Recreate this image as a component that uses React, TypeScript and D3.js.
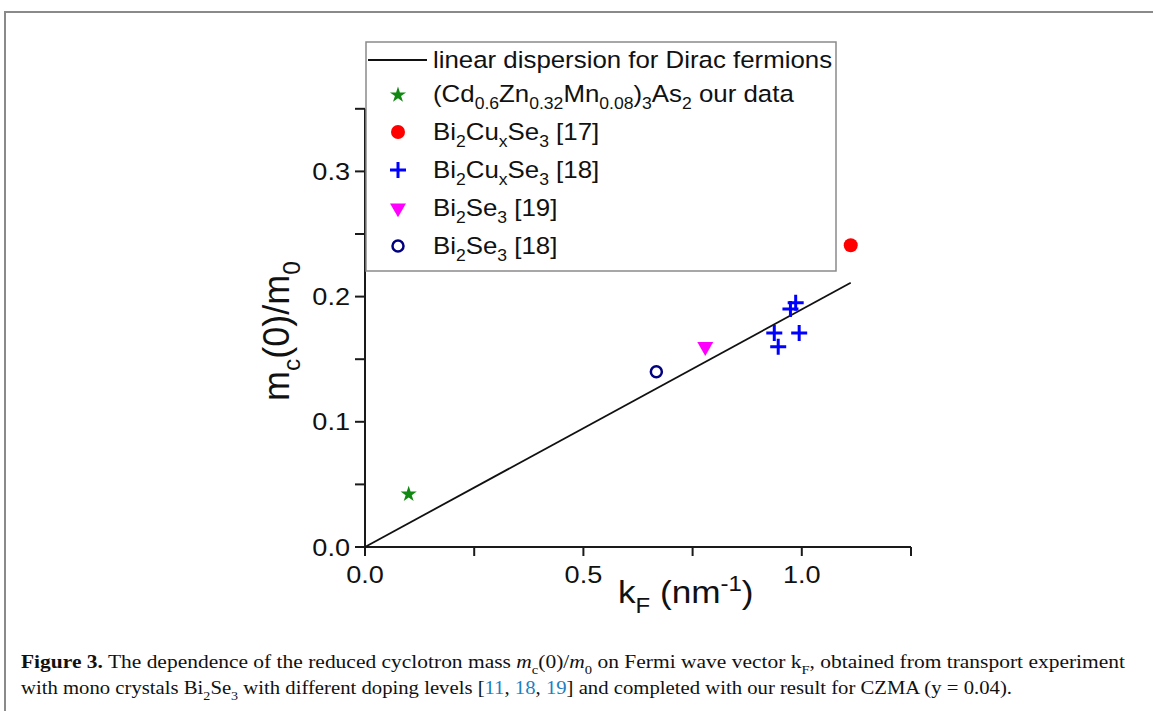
import React from 'react'
import * as d3 from 'd3'

// data (k_F in nm^-1, m_c(0)/m_0)
const diracK = [0, 1.112]
const diracM = [0, 0.211]
const czmaK = [0.1]
const czmaM = [0.043]
const cu17K = [1.112]
const cu17M = [0.241]
const cu18K = [0.937, 0.946, 0.974, 0.986, 0.994]
const cu18M = [0.171, 0.16, 0.19, 0.195, 0.171]
const se19K = [0.779]
const se19M = [0.16]
const se18K = [0.667]
const se18M = [0.14]

const xTicks = [0, 0.25, 0.5, 0.75, 1.0, 1.25]
const xLabels = [0, 0.5, 1.0]
const yTicks = [0, 0.05, 0.1, 0.15, 0.2, 0.25, 0.3, 0.35]
const yLabels = [0, 0.1, 0.2, 0.3]

const W = 1153
const H = 711
const FONT = 'Arial, "Liberation Sans", sans-serif'
const SERIF = '"Liberation Serif", "Times New Roman", serif'

const x = d3.scaleLinear().domain([0, 1.25]).range([365, 911])
const y = d3.scaleLinear().domain([0, 0.35]).range([547, 108.8])
const fmt = d3.format('.1f')

type Seg = { t: string; k?: 'sub' | 'sup'; bold?: boolean; italic?: boolean; fill?: string }

// text runs with sub / superscripts, dy keeps track of the baseline
const runs = (segs: Seg[], fs: number) => {
  let off = 0
  return segs.map((s, i) => {
    const target = s.k === 'sub' ? fs * 0.3 : s.k === 'sup' ? -fs * 0.38 : 0
    const dy = target - off
    off = target
    return (
      <tspan
        key={i}
        dy={dy}
        fontSize={s.k ? fs * 0.68 : fs}
        fontWeight={s.bold ? 'bold' : undefined}
        fontStyle={s.italic ? 'italic' : undefined}
        fill={s.fill}
      >
        {s.t}
      </tspan>
    )
  })
}

const star = d3.symbol().type(d3.symbolStar).size(80)()
const tri = d3.symbol().type(d3.symbolTriangle).size(110)()

const Plus = ({ cx, cy }: { cx: number; cy: number }) => (
  <path d={`M${cx - 8},${cy}H${cx + 8}M${cx},${cy - 8}V${cy + 8}`} stroke="#0000ff" strokeWidth={3} fill="none" />
)

const legendRows: { label: Seg[]; mark: string }[] = [
  { label: [{ t: 'linear dispersion for Dirac fermions' }], mark: 'line' },
  {
    label: [
      { t: '(Cd' }, { t: '0.6', k: 'sub' }, { t: 'Zn' }, { t: '0.32', k: 'sub' }, { t: 'Mn' },
      { t: '0.08', k: 'sub' }, { t: ')' }, { t: '3', k: 'sub' }, { t: 'As' }, { t: '2', k: 'sub' }, { t: ' our data' },
    ],
    mark: 'star',
  },
  { label: [{ t: 'Bi' }, { t: '2', k: 'sub' }, { t: 'Cu' }, { t: 'x', k: 'sub' }, { t: 'Se' }, { t: '3', k: 'sub' }, { t: ' [17]' }], mark: 'dot' },
  { label: [{ t: 'Bi' }, { t: '2', k: 'sub' }, { t: 'Cu' }, { t: 'x', k: 'sub' }, { t: 'Se' }, { t: '3', k: 'sub' }, { t: ' [18]' }], mark: 'plus' },
  { label: [{ t: 'Bi' }, { t: '2', k: 'sub' }, { t: 'Se' }, { t: '3', k: 'sub' }, { t: ' [19]' }], mark: 'tri' },
  { label: [{ t: 'Bi' }, { t: '2', k: 'sub' }, { t: 'Se' }, { t: '3', k: 'sub' }, { t: ' [18]' }], mark: 'ring' },
]

const Marker = ({ kind, cx, cy }: { kind: string; cx: number; cy: number }) => {
  if (kind === 'line') return <line x1={cx - 30} x2={cx + 29} y1={cy} y2={cy} stroke="#111" strokeWidth={1.8} />
  if (kind === 'star') return <path d={star!} transform={`translate(${cx},${cy + 1})`} fill="#118811" />
  if (kind === 'dot') return <circle cx={cx} cy={cy} r={7} fill="#ff0000" />
  if (kind === 'plus') return <Plus cx={cx} cy={cy} />
  if (kind === 'tri') return <path d={tri!} transform={`translate(${cx},${cy}) rotate(180)`} fill="#ff00ff" />
  return <circle cx={cx} cy={cy} r={5.5} fill="none" stroke="#000080" strokeWidth={2.5} />
}

const line = d3.line<number>().x(d => x(d)).y((d, i) => y(diracM[i]))

const cap1: Seg[] = [
  { t: 'Figure 3.', bold: true },
  { t: ' The dependence of the reduced cyclotron mass ' },
  { t: 'm', italic: true }, { t: 'c', k: 'sub' }, { t: '(0)/' }, { t: 'm', italic: true }, { t: '0', k: 'sub' },
  { t: ' on Fermi wave vector k' }, { t: 'F', k: 'sub' }, { t: ', obtained from transport experiment' },
]
const cap2: Seg[] = [
  { t: 'with mono crystals Bi' }, { t: '2', k: 'sub' }, { t: 'Se' }, { t: '3', k: 'sub' },
  { t: ' with different doping levels [' }, { t: '11', fill: '#1f7fc0' }, { t: ', ' }, { t: '18', fill: '#1f7fc0' },
  { t: ', ' }, { t: '19', fill: '#1f7fc0' }, { t: '] and completed with our result for CZMA (y = 0.04).' },
]

export default function App() {
  return (
    <svg width={W} height={H} style={{ position: 'absolute', left: 0, top: 0, display: 'block', background: '#fff' }}>
      {/* page frame */}
      <path d={`M5,${H}V12H${W}`} fill="none" stroke="#8a8a8a" strokeWidth={2} />

      {/* axes */}
      <g stroke="#1a1a1a" strokeWidth={2} fill="none">
        <line x1={x(0)} x2={x(1.25)} y1={y(0)} y2={y(0)} />
        <line x1={x(0)} x2={x(0)} y1={y(0)} y2={y(0.35)} />
        {xTicks.map(t => (
          <line key={'xt' + t} x1={x(t)} x2={x(t)} y1={y(0)} y2={y(0) + 9} />
        ))}
        {yTicks.map(t => (
          <line key={'yt' + t} x1={x(0) - 10} x2={x(0)} y1={y(t)} y2={y(t)} />
        ))}
      </g>
      <g fontFamily={FONT} fontSize={24} fill="#111">
        {xLabels.map(t => (
          <text key={'xl' + t} transform={`translate(${x(t)},583) scale(1.13,1)`} textAnchor="middle">
            {fmt(t)}
          </text>
        ))}
        {yLabels.map(t => (
          <text key={'yl' + t} transform={`translate(350,${y(t) + 8.5}) scale(1.13,1)`} textAnchor="end">
            {fmt(t)}
          </text>
        ))}
      </g>

      {/* axis titles */}
      <text transform="translate(618,603) scale(1.1,1)" fontFamily={FONT} fill="#111">
        {runs([{ t: 'k' }, { t: 'F', k: 'sub' }, { t: ' (nm' }, { t: '-1', k: 'sup' }, { t: ')' }], 32)}
      </text>
      <text transform="translate(289,331) rotate(-90)" fontFamily={FONT} fill="#111" textAnchor="middle">
        {runs([{ t: 'm' }, { t: 'c', k: 'sub' }, { t: '(0)/m' }, { t: '0', k: 'sub' }], 36)}
      </text>

      {/* Dirac line */}
      <path d={line(diracK)!} fill="none" stroke="#111" strokeWidth={1.8} />

      {/* data */}
      {czmaK.map((k, i) => (
        <Marker key={'s' + i} kind="star" cx={x(k)} cy={y(czmaM[i])} />
      ))}
      {cu17K.map((k, i) => (
        <Marker key={'d' + i} kind="dot" cx={x(k)} cy={y(cu17M[i])} />
      ))}
      {cu18K.map((k, i) => (
        <Marker key={'p' + i} kind="plus" cx={x(k)} cy={y(cu18M[i])} />
      ))}
      {se19K.map((k, i) => (
        <Marker key={'t' + i} kind="tri" cx={x(k)} cy={y(se19M[i])} />
      ))}
      {se18K.map((k, i) => (
        <Marker key={'r' + i} kind="ring" cx={x(k)} cy={y(se18M[i])} />
      ))}

      {/* legend */}
      <rect x={366} y={42} width={470} height={229} fill="#fff" stroke="#8a8a8a" strokeWidth={1.5} />
      {legendRows.map((r, i) => {
        const cy = i === 0 ? 60 : 94 + (i - 1) * 38
        return (
          <g key={'lg' + i}>
            <Marker kind={r.mark} cx={398} cy={cy} />
            <text transform={`translate(433,${cy + 8}) scale(1.1,1)`} fontFamily={FONT} fill="#111">
              {runs(r.label, 23.5)}
            </text>
          </g>
        )
      })}

      {/* caption */}
      <text x={21} y={668} fontFamily={SERIF} fill="#111" textLength={1104} lengthAdjust="spacingAndGlyphs">
        {runs(cap1, 19)}
      </text>
      <text x={21} y={694} fontFamily={SERIF} fill="#111" textLength={991} lengthAdjust="spacingAndGlyphs">
        {runs(cap2, 19)}
      </text>
    </svg>
  )
}
